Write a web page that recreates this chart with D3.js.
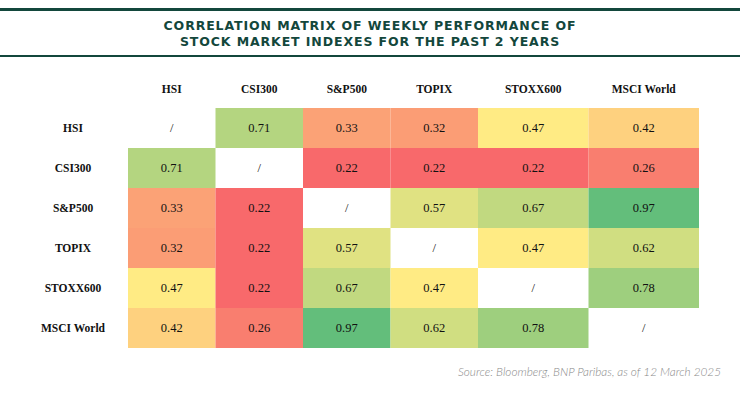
<!DOCTYPE html>
<html>
<head>
<meta charset="utf-8">
<script src="https://cdn.jsdelivr.net/npm/d3@7"></script>
<style>
  html, body { margin: 0; padding: 0; background: #fff; }
  svg { display: block; }
</style>
</head>
<body>
<svg id="chart" width="740" height="398"></svg>
<script>
const titleLines = ["CORRELATION MATRIX OF WEEKLY PERFORMANCE OF", "STOCK MARKET INDEXES FOR THE PAST 2 YEARS"];
const categories = ["HSI", "CSI300", "S&P500", "TOPIX", "STOXX600", "MSCI World"];
const rowHSI       = [null, 0.71, 0.33, 0.32, 0.47, 0.42];
const rowCSI300    = [0.71, null, 0.22, 0.22, 0.22, 0.26];
const rowSP500     = [0.33, 0.22, null, 0.57, 0.67, 0.97];
const rowTOPIX     = [0.32, 0.22, 0.57, null, 0.47, 0.62];
const rowSTOXX600  = [0.47, 0.22, 0.67, 0.47, null, 0.78];
const rowMSCIWorld = [0.42, 0.26, 0.97, 0.62, 0.78, null];
const matrix = [rowHSI, rowCSI300, rowSP500, rowTOPIX, rowSTOXX600, rowMSCIWorld];
const sourceText = "Source: Bloomberg, BNP Paribas, as of 12 March 2025";

const svg = d3.select("#chart");
const dark = "#13473c";

// Header rules
svg.append("rect").attr("x", 0).attr("y", 8).attr("width", 740).attr("height", 3).attr("fill", dark);
svg.append("rect").attr("x", 0).attr("y", 55).attr("width", 740).attr("height", 2).attr("fill", dark);

svg.selectAll("text.title").data(titleLines).join("text")
  .attr("class", "title")
  .attr("x", 370)
  .attr("y", (d, i) => 30 + i * 16)
  .attr("text-anchor", "middle")
  .attr("font-family", "'DejaVu Sans', sans-serif")
  .attr("font-weight", 700)
  .attr("font-size", 12.5)
  .attr("letter-spacing", 0.9)
  .attr("fill", dark)
  .text(d => d);

// Scales
const x = d3.scaleLinear().domain([0, 4, 6]).range([128, 478, 699]);
const y = d3.scaleBand().domain(categories).range([108, 348]).padding(0);
const color = d3.scaleLinear()
  .domain([0.22, 0.47, 0.97])
  .range(["#F8696B", "#FFEB84", "#63BE7B"])
  .interpolate(d3.interpolateRgb);

const cells = [];
matrix.forEach((row, r) => row.forEach((v, c) => cells.push({ r, c, v })));

const g = svg.append("g");
g.selectAll("rect.cell").data(cells.filter(d => d.v !== null)).join("rect")
  .attr("class", "cell")
  .attr("x", d => x(d.c))
  .attr("y", d => y(categories[d.r]))
  .attr("width", d => x(d.c + 1) - x(d.c))
  .attr("height", y.bandwidth())
  .attr("fill", d => color(d.v));

g.selectAll("text.val").data(cells).join("text")
  .attr("class", "val")
  .attr("x", d => (x(d.c) + x(d.c + 1)) / 2)
  .attr("y", d => y(categories[d.r]) + y.bandwidth() / 2)
  .attr("dy", "0.35em")
  .attr("text-anchor", "middle")
  .attr("font-family", "'Liberation Serif', serif")
  .attr("font-size", 12.5)
  .attr("fill", "#111")
  .text(d => d.v === null ? "/" : d3.format(".2f")(d.v));

// Column headers
svg.selectAll("text.colh").data(categories).join("text")
  .attr("class", "colh")
  .attr("x", (d, i) => (x(i) + x(i + 1)) / 2)
  .attr("y", 89)
  .attr("dy", "0.35em")
  .attr("text-anchor", "middle")
  .attr("font-family", "'Liberation Serif', serif")
  .attr("font-weight", 700)
  .attr("font-size", 11.5)
  .attr("fill", "#111")
  .text(d => d);

// Row headers
svg.selectAll("text.rowh").data(categories).join("text")
  .attr("class", "rowh")
  .attr("x", 73)
  .attr("y", d => y(d) + y.bandwidth() / 2)
  .attr("dy", "0.35em")
  .attr("text-anchor", "middle")
  .attr("font-family", "'Liberation Serif', serif")
  .attr("font-weight", 700)
  .attr("font-size", 11.5)
  .attr("fill", "#111")
  .text(d => d);

svg.append("text")
  .attr("x", 721)
  .attr("y", 376)
  .attr("text-anchor", "end")
  .attr("font-family", "Lato, sans-serif")
  .attr("font-style", "italic")
  .attr("font-weight", 300)
  .attr("font-size", 11.8)
  .attr("fill", "#8a8a8a")
  .text(sourceText);
</script>
</body>
</html>
